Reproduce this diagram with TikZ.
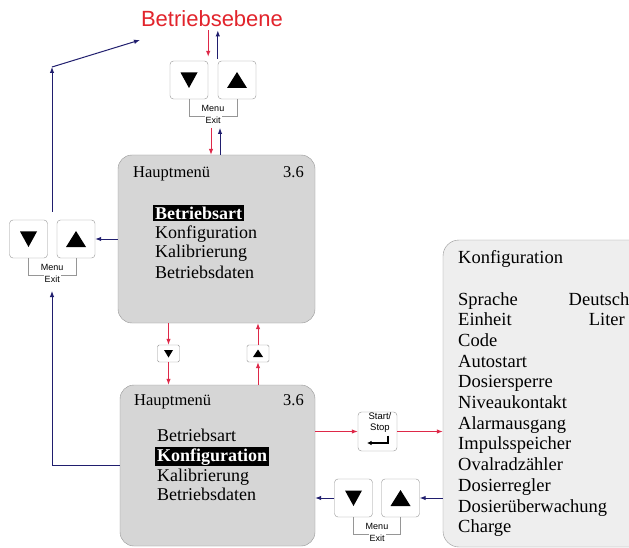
\documentclass[tikz,border=0pt]{standalone}
\usepackage{fontspec}
\setmainfont{Liberation Serif}
\setsansfont{Liberation Sans}
\usetikzlibrary{arrows.meta,calc}
\definecolor{redA}{RGB}{222,40,72}
\definecolor{navy}{RGB}{32,30,110}
\definecolor{titlered}{RGB}{226,36,44}
\definecolor{boxgray}{RGB}{214,214,214}
\definecolor{cfggray}{RGB}{238,238,238}
\definecolor{edge}{RGB}{150,150,150}
\tikzset{
  menubox/.style={draw=edge, fill=boxgray, rounded corners=14pt, inner sep=0pt},
  cfgbox/.style={draw=edge, fill=cfggray, rounded corners=16pt, inner sep=0pt},
  keybtn/.style={draw=edge, fill=white, rounded corners=3.5pt, minimum width=38pt, minimum height=38pt, inner sep=0pt},
  smallbtn/.style={draw=edge, fill=white, rounded corners=1.5pt, minimum width=22pt, minimum height=17pt, inner sep=0pt},
  redarr/.style={draw=redA, line width=1pt, -{Latex[length=6pt,width=4.5pt]}},
  bluearr/.style={draw=navy, line width=1pt, -{Latex[length=6pt,width=4.5pt]}},
  bracket/.style={draw=edge, line width=0.6pt},
  menutxt/.style={font=\sffamily\fontsize{9}{10}\selectfont, inner sep=0.5pt},
  exittxt/.style={font=\sffamily\fontsize{9}{10}\selectfont, inner sep=1pt, fill=white},
  head/.style={font=\fontsize{16.5}{18}\selectfont, inner sep=0pt, anchor=base west},
  headnum/.style={font=\fontsize{16.5}{18}\selectfont, inner sep=0pt, anchor=base east},
  item/.style={font=\fontsize{18}{20}\selectfont, inner sep=0pt, anchor=base west},
  hilite/.style={font=\bfseries\fontsize{18}{20}\selectfont, fill=black, text=white, inner xsep=2pt, inner ysep=1.5pt, anchor=base west},
  cfgitem/.style={font=\fontsize{18.5}{20}\selectfont, inner sep=0pt, anchor=base west},
  cfgval/.style={font=\fontsize{18.5}{20}\selectfont, inner sep=0pt, anchor=base east}
}
\newcommand\tridown[1]{\fill[shift={(#1.center)}] (-8.5,-7.5) -- (8.5,-7.5) -- (0,8) -- cycle;}
\newcommand\triup[1]{\fill[shift={(#1.center)}] (-10,8) -- (10,8) -- (0,-8) -- cycle;}
\newcommand\stridown[1]{\fill[shift={(#1.center)}] (-4.5,-3.5) -- (4.5,-3.5) -- (0,4) -- cycle;}
\newcommand\striup[1]{\fill[shift={(#1.center)}] (-5,3.5) -- (5,3.5) -- (0,-4) -- cycle;}
\newcommand\menubracket[3]{%
  \draw[bracket] (#1.south) -- ++(0,17) -| (#2.south);
  \node[menutxt] (#3m) at ($(#1.south)!0.5!(#2.south)+(0,9)$) {Menu};
  \node[exittxt] (#3e) at ($(#1.south)!0.5!(#2.south)+(0,21)$) {Exit};}
\begin{document}
\begin{tikzpicture}[x=1pt,y=-1pt]
\clip (0,0) rectangle (629,548);
\fill[white] (0,0) rectangle (629,548);

% title
\node[font=\sffamily\fontsize{22}{24}\selectfont, text=titlered, inner sep=0pt, anchor=base] (title) at (212,27) {Betriebsebene};

% top key pair
\node[keybtn] (d1) at (189,80) {};
\node[keybtn] (u1) at (237,80) {};
\tridown{d1}\triup{u1}
\menubracket{d1}{u1}{k1}

% left key pair
\node[keybtn] (d2) at (28.5,239) {};
\node[keybtn] (u2) at (76,239) {};
\tridown{d2}\triup{u2}
\menubracket{d2}{u2}{k2}

% bottom key pair
\node[keybtn] (d3) at (353.5,498) {};
\node[keybtn] (u3) at (400.5,498) {};
\tridown{d3}\triup{u3}
\menubracket{d3}{u3}{k3}

% menu boxes
\node[menubox, minimum width=197pt, minimum height=168pt] (b1) at (216.5,239) {};
\node[head] (b1h) at (133,178) {Hauptmenü};
\node[headnum] (b1n) at (304,178) {3.6};
\node[hilite] (b1a) at (153,219) {Betriebsart};
\node[item] (b1b) at (155,238.5) {Konfiguration};
\node[item] (b1c) at (155,258) {Kalibrierung};
\node[item] (b1d) at (155,278) {Betriebsdaten};

\node[menubox, minimum width=195pt, minimum height=161pt] (b2) at (217.5,465.5) {};
\node[head] (b2h) at (134,405) {Hauptmenü};
\node[headnum] (b2n) at (304,405) {3.6};
\node[item] (b2a) at (157,441) {Betriebsart};
\node[hilite] (b2b) at (155,461) {Konfiguration};
\node[item] (b2c) at (157,481) {Kalibrierung};
\node[item] (b2d) at (157,500) {Betriebsdaten};

% configuration box
\node[cfgbox, minimum width=220pt, minimum height=307pt] (cfg) at (553,393.5) {};
\node[cfgitem] (ct) at (458,263) {Konfiguration};
\foreach \t [count=\i] in {Sprache,Einheit,Code,Autostart,Dosiersperre,Niveaukontakt,Alarmausgang,Impulsspeicher,Ovalradzähler,Dosierregler,Dosierüberwachung,Charge}
  \node[cfgitem] (c\i) at (458,{305+20.7*(\i-1)}) {\t};
\node[cfgval] (v1) at (629.5,305) {Deutsch};
\node[cfgval] (v2) at (625,325.7) {Liter};

% small keys
\node[smallbtn] (sd) at (168.5,353.5) {};
\node[smallbtn] (su) at (258,353.5) {};
\stridown{sd}\striup{su}

% start/stop key
\node[keybtn, minimum width=39pt, minimum height=39pt] (ss) at (377.5,431.5) {};
\node[font=\sffamily\fontsize{9.5}{11}\selectfont, align=center, inner sep=0pt] (sst) at (380,423) {Start/\\Stop};
\draw[line width=1.3pt, -{Latex[length=4.5pt,width=4.5pt]}] ($(ss.center)+(10.5,4)$) -- ++(0,7.5) -- ++(-21,0);

% connectors: top
\draw[redarr, shorten <=3pt, shorten >=4pt] (title.south -| d1.east) -- (d1.north east);
\draw[bluearr, shorten <=2pt, shorten >=3pt] (u1.north west) -- (title.south -| u1.west);
\coordinate (m1r) at (211,128);
\coordinate (m1b) at (220,128);
\draw[redarr] (m1r) -- (m1r |- b1.north);
\draw[bluearr] (m1b |- b1.north) -- (m1b);

% connectors: left
\draw[bluearr] (b1.west) -- (u2.east);
\coordinate (ls) at (52,212);
\coordinate (lt) at (52,67);
\coordinate (la) at (140,40);
\draw[bluearr] (ls) -- (lt);
\draw[bluearr] (lt) -- (la);
\coordinate (lb) at (52,291);
\draw[bluearr] (b2.west) -| (lb);

% connectors: between menus
\draw[redarr] (sd |- b1.south) -- (sd.north);
\draw[redarr] (sd.south) -- (sd |- b2.north);
\draw[redarr] (su |- b2.north) -- (su.south);
\draw[redarr] (su.north) -- (su |- b1.south);

% connectors: right
\draw[redarr] (ss -| b2.east) -- (ss.west);
\draw[redarr] (ss.east) -- (ss -| cfg.west);
\draw[bluearr] (u3 -| cfg.west) -- (u3.east);
\draw[bluearr] (d3.west) -- (d3 -| b2.east);
\end{tikzpicture}
\end{document}
